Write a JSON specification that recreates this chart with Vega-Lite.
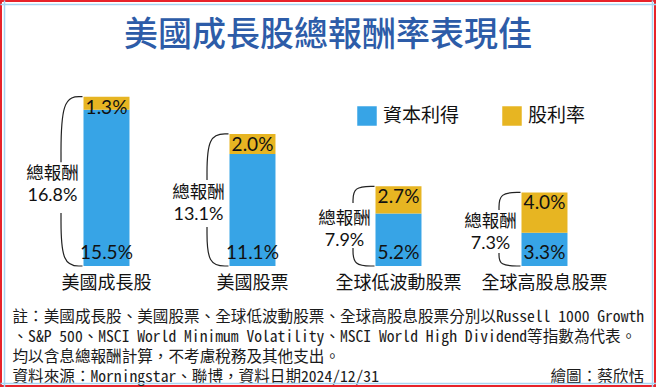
{
  "$schema": "https://vega.github.io/schema/vega-lite/v6.json",
  "width": 656,
  "height": 387,
  "autosize": {"type": "none"},
  "padding": 0,
  "background": "white",
  "title": {
    "text": "美國成長股總報酬率表現佳",
    "font": "Noto Sans CJK TC",
    "fontSize": 34,
    "fontWeight": 500,
    "color": "#2d5ca8",
    "anchor": "middle",
    "frame": "group",
    "offset": -53
  },
  "datasets": {
    "returns": [
      {"cat": "美國成長股", "capital": 0.155, "dividend": 0.013, "total": 0.168},
      {"cat": "美國股票", "capital": 0.111, "dividend": 0.020, "total": 0.131},
      {"cat": "全球低波動股票", "capital": 0.052, "dividend": 0.027, "total": 0.079},
      {"cat": "全球高股息股票", "capital": 0.033, "dividend": 0.040, "total": 0.073}
    ],
    "braces": [
      {"path": "t0", "bx": -0.1644, "by": 0.168},
      {"path": "t0", "bx": -0.3116, "by": 0.168},
      {"path": "t0", "bx": -0.3116, "by": 0.103},
      {"path": "b0", "bx": -0.3116, "by": 0.0526},
      {"path": "b0", "bx": -0.3116, "by": 0.0},
      {"path": "b0", "bx": -0.1644, "by": 0.0},
      {"path": "t1", "bx": 0.8356, "by": 0.131},
      {"path": "t1", "bx": 0.6884, "by": 0.131},
      {"path": "t1", "bx": 0.6884, "by": 0.0853},
      {"path": "b1", "bx": 0.6884, "by": 0.0387},
      {"path": "b1", "bx": 0.6884, "by": 0.0},
      {"path": "b1", "bx": 0.8356, "by": 0.0},
      {"path": "t2", "bx": 1.8356, "by": 0.079},
      {"path": "t2", "bx": 1.6884, "by": 0.079},
      {"path": "t2", "bx": 1.6884, "by": 0.0625},
      {"path": "b2", "bx": 1.6884, "by": 0.0179},
      {"path": "b2", "bx": 1.6884, "by": 0.0},
      {"path": "b2", "bx": 1.8356, "by": 0.0},
      {"path": "t3", "bx": 2.8356, "by": 0.073},
      {"path": "t3", "bx": 2.6884, "by": 0.073},
      {"path": "t3", "bx": 2.6884, "by": 0.0556},
      {"path": "b3", "bx": 2.6884, "by": 0.0129},
      {"path": "b3", "bx": 2.6884, "by": 0.0},
      {"path": "b3", "bx": 2.8356, "by": 0.0}
    ]
  },
  "resolve": {"scale": {"x": "independent", "y": "independent"}},
  "config": {
    "view": {"stroke": "#e8232a", "strokeWidth": 4},
    "font": "Noto Sans CJK TC"
  },
  "layer": [
    {
      "data": {"name": "returns"},
      "encoding": {
        "x": {
          "field": "cat",
          "type": "nominal",
          "sort": null,
          "scale": {"type": "band", "paddingInner": 0.685, "paddingOuter": 0.5891, "align": 0.4854},
          "axis": {
            "orient": "bottom",
            "offset": -121,
            "domain": false,
            "ticks": false,
            "grid": false,
            "labelAngle": 0,
            "labelOverlap": false,
            "labelFont": "Noto Sans CJK TC",
            "labelFontSize": 18,
            "labelColor": "#111111",
            "labelPadding": 8,
            "title": [
              "註：美國成長股、美國股票、全球低波動股票、全球高股息股票分別以Russell 1000 Growth",
              "、S&P 500、MSCI World Minimum Volatility、MSCI World High Dividend等指數為代表。",
              "均以含息總報酬計算，不考慮稅務及其他支出。",
              "資料來源：Morningstar、聯博，資料日期2024/12/31　　　　　　　　　　　繪圖：蔡欣恬"
            ],
            "titleFont": "Noto Sans Mono CJK TC, Noto Sans CJK TC",
            "titleFontSize": 15.6,
            "titleFontWeight": "normal",
            "titleColor": "#1a1a1a",
            "titleAlign": "left",
            "titleAnchor": "start",
            "titleBaseline": "top",
            "titleX": 12,
            "titleY": 43,
            "titleLineHeight": 20
          }
        }
      },
      "layer": [
        {
          "mark": {"type": "bar"},
          "encoding": {
            "y": {
              "field": "capital",
              "type": "quantitative",
              "scale": {"domain": [-0.12004, 0.26389], "nice": false, "zero": false},
              "axis": {"orient": "left", "offset": -4, "domain": true, "domainColor": "#a8d5f2", "domainWidth": 1.5, "labels": false, "ticks": false, "grid": false, "title": null}
            },
            "color": {
              "datum": "資本利得",
              "type": "nominal",
              "scale": {"domain": ["資本利得", "股利率"], "range": ["#37a4e6", "#e7b522"]},
              "legend": {
                "title": null,
                "orient": "none",
                "legendX": 357,
                "legendY": 106,
                "direction": "horizontal",
                "symbolType": "square",
                "symbolSize": 380,
                "symbolStrokeWidth": 0,
                "labelFont": "Noto Sans CJK TC",
                "labelFontSize": 19,
                "labelColor": "#111111",
                "labelOffset": 6,
                "columnPadding": 42,
                "padding": 0,
                "labelLimit": 0
              }
            }
          }
        },
        {
          "mark": {"type": "bar"},
          "encoding": {
            "y": {"field": "capital", "type": "quantitative"},
            "y2": {"field": "total"},
            "color": {"datum": "股利率", "type": "nominal"}
          }
        },
        {
          "mark": {"type": "text", "baseline": "middle", "dy": -13, "fontSize": 19, "font": "Lato", "color": "#111111"},
          "encoding": {
            "y": {"datum": 0, "type": "quantitative"},
            "text": {"field": "capital", "format": ".1%"}
          }
        },
        {
          "mark": {"type": "text", "baseline": "middle", "dy": 11, "fontSize": 19, "font": "Lato", "color": "#111111"},
          "encoding": {
            "y": {"field": "total", "type": "quantitative"},
            "text": {"field": "dividend", "format": ".1%"}
          }
        }
      ]
    },
    {
      "data": {"name": "braces"},
      "mark": {"type": "line", "interpolate": "basis", "color": "#222222", "strokeWidth": 1.2},
      "encoding": {
        "x": {
          "field": "bx",
          "type": "quantitative",
          "scale": {"domain": [-0.72945, 3.7637], "nice": false, "zero": false},
          "axis": {"orient": "top", "offset": -4, "domain": true, "domainColor": "#a8d5f2", "domainWidth": 1.5, "labels": false, "ticks": false, "grid": false, "title": null}
        },
        "y": {
          "field": "by",
          "type": "quantitative",
          "scale": {"domain": [-0.12004, 0.26389], "nice": false, "zero": false},
          "axis": {"orient": "right", "offset": -4, "domain": true, "domainColor": "#a8d5f2", "domainWidth": 1.5, "labels": false, "ticks": false, "grid": false, "title": null}
        },
        "detail": {"field": "path"},
        "order": {"value": null}
      }
    },
    {
      "data": {"name": "returns"},
      "encoding": {
        "x": {
          "field": "cat",
          "type": "nominal",
          "sort": null,
          "scale": {"type": "band", "paddingInner": 0.685, "paddingOuter": 0.5891, "align": 0.4854},
          "axis": {"orient": "bottom", "offset": -4, "domain": true, "domainColor": "#a8d5f2", "domainWidth": 1.5, "labels": false, "ticks": false, "grid": false, "title": null}
        },
        "y": {
          "field": "total",
          "type": "quantitative",
          "scale": {"domain": [-0.24008, 0.52778], "nice": false, "zero": false},
          "axis": null
        }
      },
      "layer": [
        {
          "mark": {"type": "text", "text": "總報酬", "baseline": "middle", "dx": -54, "dy": -7, "fontSize": 17.5, "font": "Noto Sans CJK TC", "color": "#111111"}
        },
        {
          "mark": {"type": "text", "baseline": "middle", "dx": -54, "dy": 15, "fontSize": 18, "font": "Lato", "color": "#111111"},
          "encoding": {"text": {"field": "total", "format": ".1%"}}
        }
      ]
    }
  ]
}
